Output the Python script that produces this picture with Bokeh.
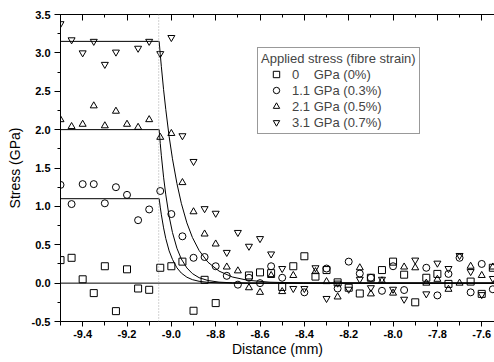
import math
from bokeh.plotting import figure
from bokeh.models import (Range1d, LinearAxis, SingleIntervalTicker, NumeralTickFormatter,
                          Span, Legend, LegendItem, ColumnDataSource)
from bokeh.embed import file_html
from bokeh.resources import INLINE

NaN = float("nan")

# ---------------- data ----------------
distance = [-9.50, -9.45, -9.40, -9.35, -9.30, -9.25, -9.20, -9.15, -9.10, -9.05,
            -9.00, -8.95, -8.90, -8.85, -8.80, -8.75, -8.70, -8.65, -8.60, -8.55,
            -8.50, -8.45, -8.40, -8.35, -8.30, -8.25, -8.20, -8.15, -8.10, -8.05,
            -8.00, -7.95, -7.90, -7.85, -7.80, -7.75, -7.70, -7.65, -7.60, -7.55]

stress_0 = [0.30, 0.33, 0.05, -0.13, 0.22, -0.365, 0.18, -0.07, -0.087, 0.20,
            0.22, 0.28, -0.36, 0.043, -0.26, NaN, NaN, 0.10, 0.14, 0.13,
            -0.05, 0.22, 0.35, 0.085, 0.17, 0.01, -0.06, -0.135, 0.07, 0.17,
            0.28, 0.11, -0.25, 0.07, 0.12, -0.01, NaN, 0.02, -0.14, 0.20]

stress_1_1 = [1.28, 1.03, 1.29, 1.29, 1.04, 1.25, 1.15, 0.82, 0.96, 1.20,
              0.90, 0.61, 0.33, 0.34, 0.22, 0.095, -0.02, 0.07, 0.0, 0.22,
              0.07, NaN, -0.12, NaN, 0.19, -0.07, 0.28, 0.125, 0.07, -0.10,
              0.22, -0.09, NaN, 0.20, -0.16, 0.12, 0.33, -0.12, 0.25, -0.08]

stress_2_1 = [2.13, 2.04, 2.07, 2.31, 2.05, 2.24, 2.07, 2.03, 2.13, 1.90,
              1.95, 1.31, 0.93, 0.64, 0.51, 0.21, 0.16, -0.06, -0.12, 0.10,
              -0.11, 0.10, NaN, 0.15, 0.02, -0.18, NaN, 0.20, -0.14, 0.03,
              -0.13, 0.21, 0.20, 0.0, 0.05, -0.08, 0.0, 0.22, 0.10, 0.21]

stress_3_1 = [3.38, 3.17, 3.00, 3.15, 2.85, 3.01, NaN, 3.06, 3.15, 2.99,
              3.20, 1.92, 1.585, 0.97, 0.91, 0.40, 0.66, 0.48, 0.58, 0.38,
              0.19, -0.07, -0.07, 0.20, -0.20, 0.0, -0.08, 0.05, -0.06, 0.05,
              -0.08, -0.21, 0.30, -0.14, 0.26, 0.19, 0.36, 0.15, -0.15, 0.06]

# fitted profiles (plateau, then decay beyond the crack at about -9.055 mm)
fit_x = [-9.5, -9.055, -9.05, -9.045, -9.035, -9.025, -9.01, -8.995, -8.975, -8.955,
         -8.93, -8.905, -8.875, -8.835, -8.785, -8.725, -8.655, -8.555, -8.405, -7.5]
fit_3_1 = [3.15, 3.15, 2.98, 2.82, 2.52, 2.26, 1.91, 1.62, 1.30, 1.04,
           0.785, 0.595, 0.426, 0.273, 0.157, 0.080, 0.037, 0.012, 0.002, 0.0]
fit_2_1 = [2.0, 2.0, 1.82, 1.66, 1.38, 1.15, 0.87, 0.66, 0.455, 0.314,
           0.198, 0.124, 0.071, 0.034, 0.013, 0.004, 0.001, 0.0, 0.0, 0.0]
fit_1_1 = [1.1, 1.1, 0.99, 0.89, 0.72, 0.58, 0.42, 0.31, 0.20, 0.131,
           0.077, 0.045, 0.024, 0.010, 0.004, 0.001, 0.0, 0.0, 0.0, 0.0]
fit_0_x = [-9.5, -7.5]
fit_0 = [0.0, 0.0]
crack_position = -9.057

legend_title = "Applied stress (fibre strain)"
legend_labels = ["0\u00a0\u00a0\u00a0\u00a0GPa (0%)", "1.1 GPa (0.3%)",
                 "2.1 GPa (0.5%)", "3.1 GPa (0.7%)"]
markers = ["square", "circle", "triangle", "inverted_triangle"]

FONT = "Liberation Sans"

p = figure(width=494, height=362, output_backend="svg", toolbar_location=None,
           x_range=Range1d(-9.5, -7.5424), y_range=Range1d(-0.5, 3.5),
           min_border_left=60, min_border_right=0, min_border_top=14,
           min_border_bottom=41)
p.outline_line_color = None
p.xgrid.grid_line_color = None
p.ygrid.grid_line_color = None
p.background_fill_color = "white"
p.border_fill_color = "white"

xticker = SingleIntervalTicker(interval=0.2, num_minor_ticks=2)
yticker = SingleIntervalTicker(interval=0.5, num_minor_ticks=2)

xa = p.xaxis[0]
xa.ticker = xticker
xa.formatter = NumeralTickFormatter(format="0.0")
xa.axis_label = "Distance (mm)"
xa.major_tick_out = 5
xa.minor_tick_out = 4
xa.major_tick_in = 0
xa.minor_tick_in = 0
xa.major_label_standoff = 3
xa.axis_label_standoff = 0

ya = p.yaxis[0]
ya.ticker = yticker
ya.formatter = NumeralTickFormatter(format="0.0")
ya.axis_label = "Stress (GPa)"
ya.major_tick_out = 6
ya.minor_tick_out = 3
ya.major_tick_in = 0
ya.minor_tick_in = 0
ya.major_label_standoff = 4
ya.axis_label_standoff = 6

for ax in (xa, ya):
    ax.axis_line_color = "black"
    ax.major_tick_line_color = "black"
    ax.minor_tick_line_color = "black"
    ax.major_label_text_font = FONT
    ax.major_label_text_font_size = "11px"
    ax.major_label_text_font_style = "bold"
    ax.major_label_text_color = "black"
    ax.axis_label_text_font = FONT
    ax.axis_label_text_font_size = "14px"
    ax.axis_label_text_font_style = "normal"
    ax.axis_label_text_color = "black"

top = LinearAxis(ticker=SingleIntervalTicker(interval=0.2, num_minor_ticks=2),
                 major_tick_in=6, minor_tick_in=3, major_tick_out=0, minor_tick_out=0,
                 major_label_text_font_size="1px", major_label_text_color=None,
                 major_label_standoff=0,
                 axis_line_color="black", major_tick_line_color="black",
                 minor_tick_line_color="black")
p.add_layout(top, "above")

# crack position
p.add_layout(Span(location=crack_position, dimension="height", line_color="#a8a8a8",
                  line_dash="1 2", line_width=1))

# fit lines
p.line(fit_0_x, fit_0, line_color="black", line_width=1)
p.line(fit_x, fit_1_1, line_color="black", line_width=1)
p.line(fit_x, fit_2_1, line_color="black", line_width=1)
p.line(fit_x, fit_3_1, line_color="black", line_width=1)

renderers = []
for ys, mk in zip([stress_0, stress_1_1, stress_2_1, stress_3_1], markers):
    src = ColumnDataSource(data=dict(x=distance, y=ys))
    r = p.scatter("x", "y", source=src, marker=mk, size=7, fill_color=None,
                  line_color="black", line_width=1)
    renderers.append(r)

legend = Legend(items=[LegendItem(label=lab, renderers=[r]) for lab, r in zip(legend_labels, renderers)],
                title=legend_title, location=(197, 187),
                title_text_font=FONT, title_text_font_size="13px", title_text_font_style="normal",
                title_standoff=0,
                label_text_font=FONT, label_text_font_size="13px",
                label_height=16, glyph_height=16, glyph_width=30, label_standoff=1,
                spacing=0, padding=3, margin=0,
                border_line_color="#333333", border_line_width=1,
                background_fill_color="white", background_fill_alpha=1.0)
p.add_layout(legend)

open("out.html", "w").write(file_html(p, INLINE))
